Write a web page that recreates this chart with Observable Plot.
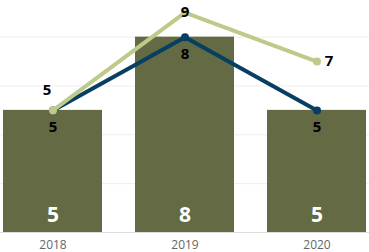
<!DOCTYPE html>
<html><head><meta charset="utf-8">
<script src="https://cdn.jsdelivr.net/npm/d3@7"></script>
<script src="https://cdn.jsdelivr.net/npm/@observablehq/plot@0.6"></script>
<style>body{margin:0;background:#fff}</style>
</head><body><div id="chart"></div>
<script>
const years = ["2018", "2019", "2020"];
const barValues = [5, 8, 5];
const navyValues = [5, 8, 5];
const greenValues = [5, 9, 7];
const gridTicks = [2, 4, 6, 8];

const bars = years.map((y, i) => ({year: y, v: barValues[i]}));
const navy = years.map((y, i) => ({year: y, v: navyValues[i]}));
const green = years.map((y, i) => ({year: y, v: greenValues[i]}));

const font = "'Segoe UI', 'Open Sans', 'DejaVu Sans', sans-serif";
const chart = Plot.plot({
  width: 369, height: 252,
  marginTop: 0, marginBottom: 20, marginLeft: 3, marginRight: 3,
  style: {fontFamily: font, background: "#fff"},
  x: {domain: years, paddingInner: 0.25, paddingOuter: 0, axis: null, label: null},
  y: {domain: [0, 9.5], axis: null},
  marks: [
    Plot.ruleY(gridTicks, {stroke: "#eeeeee", strokeWidth: 1, insetLeft: -3, insetRight: -3}),
    Plot.barY(bars, {x: "year", y: "v", fill: "#636A44"}),
    Plot.ruleY([0], {stroke: "#dddddd", strokeWidth: 1, insetLeft: -3, insetRight: -3}),
    Plot.text(bars, {x: "year", y: 0, text: d => d.v, fill: "white", fontWeight: "bold", fontSize: 21, dy: -17}),
    Plot.axisX({tickSize: 0, tickPadding: 8, fontSize: 12, color: "#666666", stroke: null, label: null}),
    Plot.line(navy, {x: "year", y: "v", stroke: "#063F62", strokeWidth: 4}),
    Plot.dot(navy, {x: "year", y: "v", fill: "#063F62", r: 4}),
    Plot.line(green, {x: "year", y: "v", stroke: "#BECA8A", strokeWidth: 4}),
    Plot.dot(green, {x: "year", y: "v", fill: "#BECA8A", r: 4}),
    Plot.text(navy, {x: "year", y: "v", text: d => d.v, fill: "#000", fontWeight: "bold", fontSize: 15, dy: 17}),
    Plot.text(green.slice(0,1), {x: "year", y: "v", text: d => d.v, fill: "#000", fontWeight: "bold", fontSize: 15, dy: -20, dx: -6}),
    Plot.text(green.slice(1,2), {x: "year", y: "v", text: d => d.v, fill: "#000", fontWeight: "bold", fontSize: 15, dy: -1}),
    Plot.text(green.slice(2,3), {x: "year", y: "v", text: d => d.v, fill: "#000", fontWeight: "bold", fontSize: 15, dx: 12})
  ]
});
document.getElementById("chart").append(chart);
</script></body></html>
